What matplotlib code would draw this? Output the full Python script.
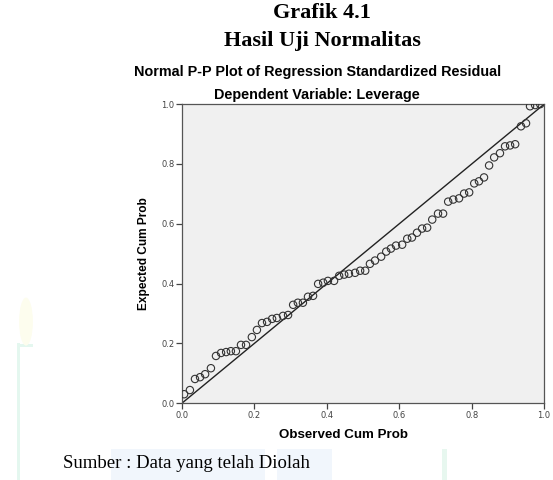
import matplotlib
matplotlib.use("Agg")
import matplotlib.pyplot as plt
from matplotlib.patches import Rectangle, Ellipse

observed = [0.006, 0.022, 0.036, 0.050, 0.064, 0.080, 0.094, 0.108, 0.122, 0.135,
            0.149, 0.163, 0.177, 0.193, 0.207, 0.221, 0.235, 0.249, 0.262, 0.279,
            0.293, 0.307, 0.320, 0.334, 0.348, 0.362, 0.376, 0.390, 0.403, 0.420,
            0.434, 0.448, 0.461, 0.478, 0.492, 0.506, 0.519, 0.533, 0.550, 0.564,
            0.577, 0.591, 0.608, 0.622, 0.635, 0.649, 0.663, 0.677, 0.691, 0.707,
            0.721, 0.735, 0.749, 0.765, 0.779, 0.793, 0.807, 0.820, 0.834, 0.848,
            0.862, 0.878, 0.892, 0.906, 0.920, 0.936, 0.950, 0.961, 0.975, 0.989]
expected = [0.030, 0.044, 0.081, 0.087, 0.097, 0.117, 0.158, 0.168, 0.171, 0.174,
            0.174, 0.195, 0.195, 0.221, 0.245, 0.268, 0.272, 0.282, 0.285, 0.292,
            0.295, 0.329, 0.336, 0.336, 0.356, 0.359, 0.399, 0.403, 0.409, 0.409,
            0.426, 0.430, 0.433, 0.436, 0.443, 0.443, 0.466, 0.477, 0.490, 0.507,
            0.517, 0.527, 0.530, 0.550, 0.554, 0.570, 0.584, 0.587, 0.614, 0.634,
            0.634, 0.674, 0.681, 0.685, 0.701, 0.705, 0.735, 0.742, 0.755, 0.795,
            0.822, 0.836, 0.859, 0.862, 0.866, 0.926, 0.936, 0.993, 0.997, 1.000]
ticks = [0.0, 0.2, 0.4, 0.6, 0.8, 1.0]
tick_labels = ["0.0", "0.2", "0.4", "0.6", "0.8", "1.0"]

fig = plt.figure(figsize=(5.53, 4.8), dpi=100)
fig.patch.set_facecolor("white")

# faint watermark decoration
fig.patches.append(Rectangle((0.030, 0.0), 0.007, 0.285, transform=fig.transFigure,
                             facecolor="#e4f7ef", edgecolor="none", zorder=0))
fig.patches.append(Rectangle((0.030, 0.277), 0.030, 0.007, transform=fig.transFigure,
                             facecolor="#e4f7ef", edgecolor="none", zorder=0))
fig.patches.append(Ellipse((0.047, 0.33), 0.025, 0.10, transform=fig.transFigure,
                           facecolor="#fdfdee", edgecolor="none", zorder=0))
fig.patches.append(Rectangle((0.20, 0.0), 0.28, 0.065, transform=fig.transFigure,
                             facecolor="#f1f6fc", edgecolor="none", zorder=0))
fig.patches.append(Rectangle((0.50, 0.0), 0.10, 0.065, transform=fig.transFigure,
                             facecolor="#f1f6fc", edgecolor="none", zorder=0))
fig.patches.append(Rectangle((0.80, 0.0), 0.009, 0.065, transform=fig.transFigure,
                             facecolor="#e7f7ef", edgecolor="none", zorder=0))

ax = fig.add_axes([0.329, 0.160, 0.655, 0.623])
ax.set_facecolor("#f0f0f0")
ax.plot([0, 1], [0, 1], color="#222222", lw=1.0, zorder=2)
ax.scatter(observed, expected, s=28, facecolors="none", edgecolors="#333333",
           linewidths=0.8, zorder=3)
ax.set_xlim(0, 1)
ax.set_ylim(0, 1)
ax.set_xticks(ticks)
ax.set_xticklabels(tick_labels)
ax.set_yticks(ticks)
ax.set_yticklabels(tick_labels)
ax.tick_params(direction="out", length=4, width=0.9, color="#444444",
               labelsize=6, labelcolor="#444444", pad=1.5)
for sp in ax.spines.values():
    sp.set_color("#555555")
    sp.set_linewidth(0.9)

ax.set_xlabel("Observed Cum Prob", fontsize=9.6, fontweight="bold",
              family="Liberation Sans")
ax.xaxis.set_label_coords(0.445, -0.085)
ax.set_ylabel("Expected Cum Prob", fontsize=8.6, fontweight="bold",
              family="Liberation Sans")
ax.yaxis.set_label_coords(-0.087, 0.50)

fig.text(0.583, 0.973, "Grafik 4.1", ha="center", va="center", fontsize=16,
         fontweight="bold", family="Liberation Serif")
fig.text(0.583, 0.915, "Hasil Uji Normalitas", ha="center", va="center", fontsize=16,
         fontweight="bold", family="Liberation Serif")
fig.text(0.575, 0.851, "Normal P-P Plot of Regression Standardized Residual",
         ha="center", va="center", fontsize=10.4, fontweight="bold",
         family="Liberation Sans")
fig.text(0.573, 0.803, "Dependent Variable: Leverage",
         ha="center", va="center", fontsize=10.4, fontweight="bold",
         family="Liberation Sans")
fig.text(0.114, 0.035, "Sumber : Data yang telah Diolah", ha="left", va="center",
         fontsize=13.5, family="Liberation Serif")

fig.savefig("out.png", dpi=100)
